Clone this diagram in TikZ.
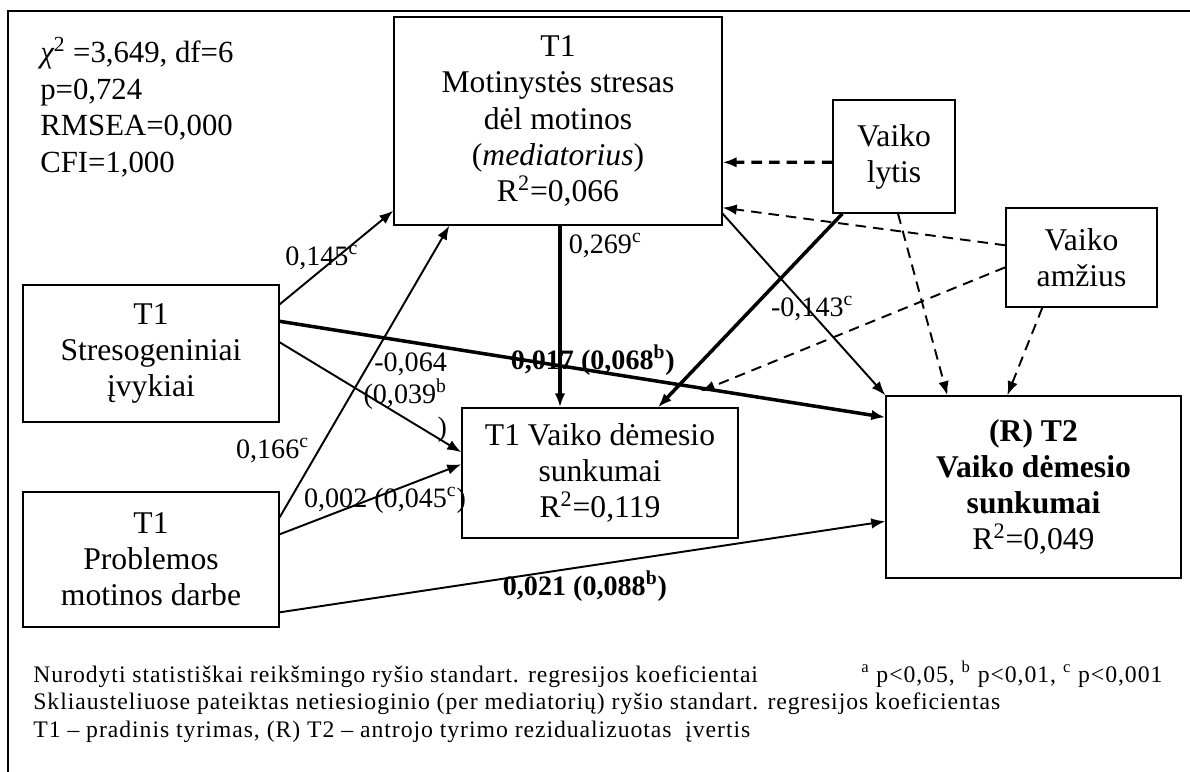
\documentclass[tikz,border=0pt]{standalone}
\usepackage{fontspec}
\setmainfont{Liberation Serif}
\newfontfamily\notefont[LetterSpace=4]{Liberation Serif}
\usetikzlibrary{arrows.meta,calc}
\tikzset{box/.style = {draw, line width=0.8pt, align=center, inner sep=0pt, font=\fontsize{18}{20.5}\selectfont}}
\tikzset{coef/.style = {inner sep=1pt, font=\fontsize{16}{18.5}\selectfont}}
\tikzset{note/.style = {inner sep=0pt, align=left, font=\notefont\fontsize{13.5}{15.9}\selectfont}}
\tikzset{link/.style = {->, line width=1.1pt}}
\tikzset{strong/.style = {->, line width=2pt}}
\tikzset{ctrl/.style = {->, line width=1.1pt, dash pattern=on 6pt off 4pt}}

\begin{document}
\begin{tikzpicture}[x=0.02cm, y=-0.02cm, >={Latex[length=8pt,width=6pt]}]
  \useasboundingbox (0,0) rectangle (1190,771);
  \draw[line width=0.8pt] (8,790) -- (8,11) -- (1210,11);

  % fit of the model
  \node [anchor=north west, align=left, inner sep=0pt, font=\fontsize{17.5}{20.8}\selectfont] (fit) at (40,37)
    {{\itshape χ}\textsuperscript{2} =3,649, df=6\\ p=0,724\\ RMSEA=0,000\\ CFI=1,000};

  \node [box, minimum width=6.56cm, minimum height=4.16cm] (med) at (558,121)
    {T1\\ Motinystės stresas\\ dėl motinos\\ (\textit{mediatorius})\\ R\textsuperscript{2}=0,066};
  \node [box, minimum width=2.44cm, minimum height=2.26cm] (lytis) at (894,156.5) {Vaiko\\ lytis};
  \node [box, minimum width=3.02cm, minimum height=1.98cm] (amzius) at (1081.5,257.5) {Vaiko\\ amžius};
  \node [box, minimum width=5.12cm, minimum height=2.74cm] (stres) at (151,353.5) {T1\\ Stresogeniniai\\ įvykiai};
  \node [box, minimum width=5.12cm, minimum height=2.70cm] (probl) at (151,559.5) {T1\\ Problemos\\ motinos darbe};
  \node [box, minimum width=5.52cm, minimum height=2.60cm] (vaik1) at (600,473)
    {T1 Vaiko dėmesio\\ sunkumai\\ R\textsuperscript{2}=0,119};
  \node [box, minimum width=5.90cm, minimum height=3.64cm] (vaik2) at (1033.5,487)
    {\textbf{(R) T2}\\ \textbf{Vaiko dėmesio}\\ \textbf{sunkumai}\\ R\textsuperscript{2}=0,049};

  % paths to the mediator
  \path[link] ($(stres.north east)+(0,20)$) edge node[coef, pos=0.37, yshift=7pt] {0,145\textsuperscript{c}} ($(med.south west)+(0,-15)$);
  \path[link] ($(probl.north east)+(0,26)$) edge node[coef, pos=0.23, anchor=east, xshift=-4pt] {0,166\textsuperscript{c}} ($(med.south west)+(56,0)$);
  \path[strong] ($(med.south)+(2,0)$) edge node[coef, pos=0.11, anchor=west, xshift=3pt] {0,269\textsuperscript{c}} ($(vaik1.north)+(-40,0)$);

  % direct paths
  \path[strong] ($(stres.north east)+(0,37)$) edge node[coef, pos=0.517, yshift=6pt] {\textbf{0,017 (0,068\textsuperscript{b})}} ($(vaik2.north west)+(0,22)$);
  \path[link] ($(stres.north east)+(0,58)$) edge node[coef, pos=0.5, anchor=west, xshift=-5.5pt, align=right] {-0,064\\ (0,039\textsuperscript{b}\\ )} ($(vaik1.north west)+(0,45)$);
  \path[link] ($(probl.north east)+(0,43)$) edge node[coef, pos=0.58, yshift=-4pt] {0,002 (0,045\textsuperscript{c})} ($(vaik1.north west)+(0,57)$);
  \path[link] ($(probl.north east)+(0,121)$) edge node[coef, pos=0.504, yshift=-11pt] {\textbf{0,021 (0,088\textsuperscript{b})}} ($(vaik2.north west)+(0,126)$);
  \path[link] ($(med.south east)+(0,-12)$) edge node[coef, pos=0.55, yshift=3pt] {-0,143\textsuperscript{c}} (vaik2.north west);

  % control variables
  \path[strong] ($(lytis.south west)+(10,0)$) edge ($(vaik1.north)+(58,0)$);
  \path[ctrl, line width=1.8pt] ($(lytis.north west)+(0,63)$) edge ($(med.north east)+(0,146)$);
  \path[ctrl] ($(amzius.north west)+(0,38)$) edge ($(med.south east)+(0,-18)$);
  \path[ctrl] ($(amzius.north west)+(0,60)$) edge ($(vaik1.north east)+(-38,-16)$);
  \path[ctrl] ($(lytis.south)+(4,0)$) edge ($(vaik2.north west)+(62,0)$);
  \path[ctrl] ($(amzius.south west)+(37,0)$) edge ($(vaik2.north west)+(122,0)$);

  % legend
  \node [note, anchor=north west] (legend) at (33,665)
    {Nurodyti statistiškai reikšmingo ryšio standart. regresijos koeficientai\\
     Skliausteliuose pateiktas netiesioginio (per mediatorių) ryšio standart. regresijos koeficientas\\
     T1 – pradinis tyrimas, (R) T2 – antrojo tyrimo rezidualizuotas\ \ įvertis};
  \node [note, anchor=base west] (pvals) at (861,682)
    {\textsuperscript{a} p<0,05, \textsuperscript{b} p<0,01, \textsuperscript{c} p<0,001};
\end{tikzpicture}
\end{document}
